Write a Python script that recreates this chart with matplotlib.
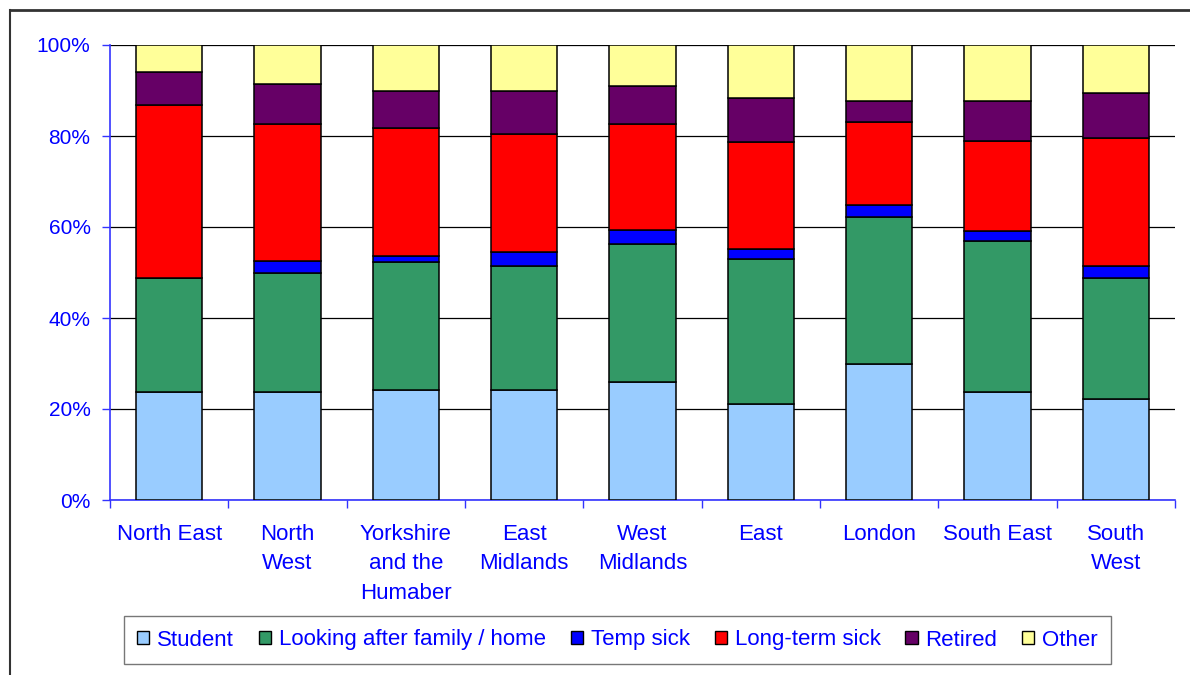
#!/usr/bin/env python3
"""Stacked 100% bars: reasons for economic inactivity by English region."""

import matplotlib.pyplot as plt
import numpy as np
from matplotlib.lines import Line2D
from matplotlib.patches import Patch

plt.rcParams["font.family"] = ["Liberation Sans", "DejaVu Sans"]

regions = [
    "North East", "North\nWest", "Yorkshire\nand the\nHumaber", "East\nMidlands",
    "West\nMidlands", "East", "London", "South East", "South\nWest",
]

# Shares (%) of each reason, per region
student = [23.8, 23.8, 24.2, 24.2, 26.0, 21.2, 29.8, 23.8, 22.3]
family_home = [25.0, 26.1, 28.0, 27.2, 30.3, 31.7, 32.3, 33.2, 26.5]
temp_sick = [0.0, 2.7, 1.5, 3.1, 3.0, 2.2, 2.8, 2.2, 2.7]
long_term_sick = [38.0, 30.1, 28.0, 26.0, 23.4, 23.6, 18.2, 19.8, 28.0]
retired = [7.2, 8.7, 8.2, 9.4, 8.3, 9.7, 4.5, 8.6, 10.0]
other = [6.0, 8.6, 10.1, 10.1, 9.0, 11.6, 12.4, 12.4, 10.5]

series = [
    ("Student", student, "#99CCFF"),
    ("Looking after family / home", family_home, "#339966"),
    ("Temp sick", temp_sick, "#0000FF"),
    ("Long-term sick", long_term_sick, "#FF0000"),
    ("Retired", retired, "#660066"),
    ("Other", other, "#FFFF99"),
]

TEXT_BLUE = "#0000FF"
AXIS_BLUE = "#3333FF"

fig = plt.figure(figsize=(11.9, 6.75), dpi=100)
ax = fig.add_axes([110 / 1190, 1 - 500 / 675, 1065 / 1190, 455 / 675])

x = np.arange(len(regions))
bottom = np.zeros(len(regions))
for name, values, colour in series:
    vals = np.array(values)
    ax.bar(x, vals, bottom=bottom, width=0.56, color=colour,
           edgecolor="black", linewidth=1.1, zorder=3)
    bottom += vals

ax.set_xlim(-0.5, len(regions) - 0.5)
ax.set_ylim(0, 100)

# gridlines
ax.set_yticks(np.arange(0, 101, 20))
ax.set_yticklabels([f"{v}%" for v in range(0, 101, 20)])
ax.yaxis.grid(True, color="black", linewidth=0.9, zorder=0)

ax.set_xticks(x)
ax.set_xticklabels(regions, linespacing=1.55)
ax.set_xticks(np.arange(-0.5, len(regions)), minor=True)
ax.tick_params(axis="x", which="major", length=0, pad=17,
               labelsize=16, labelcolor=TEXT_BLUE)
ax.tick_params(axis="x", which="minor", length=6, direction="out",
               color=AXIS_BLUE, width=1)
ax.tick_params(axis="y", length=6, direction="out", color=AXIS_BLUE,
               width=1, labelsize=15, labelcolor=TEXT_BLUE, pad=8)

for side in ("top", "right"):
    ax.spines[side].set_visible(False)
for side in ("left", "bottom"):
    ax.spines[side].set_color(AXIS_BLUE)
    ax.spines[side].set_linewidth(1.2)

handles = [Patch(facecolor=c, edgecolor="black", linewidth=1.0, label=n)
           for n, _, c in series]
leg = fig.legend(handles=handles, loc="center", ncol=6,
                 bbox_to_anchor=(617.5 / 1190, 1 - 640 / 675),
                 frameon=True, fancybox=False, fontsize=16,
                 handlelength=0.55, handleheight=0.55, handletextpad=0.35,
                 columnspacing=1.12, borderpad=0.6)
leg.get_frame().set_edgecolor("#555555")
leg.get_frame().set_linewidth(1.0)
for t in leg.get_texts():
    t.set_color(TEXT_BLUE)

# outer chart frame (top and left edges)
fig.add_artist(Line2D([10 / 1190, 1.0], [1 - 10 / 675, 1 - 10 / 675],
                      color="#333333", linewidth=2.0, transform=fig.transFigure))
fig.add_artist(Line2D([10 / 1190, 10 / 1190], [0.0, 1 - 10 / 675],
                      color="#333333", linewidth=1.5, transform=fig.transFigure))

fig.savefig("out.png", dpi=100)
plt.close(fig)
